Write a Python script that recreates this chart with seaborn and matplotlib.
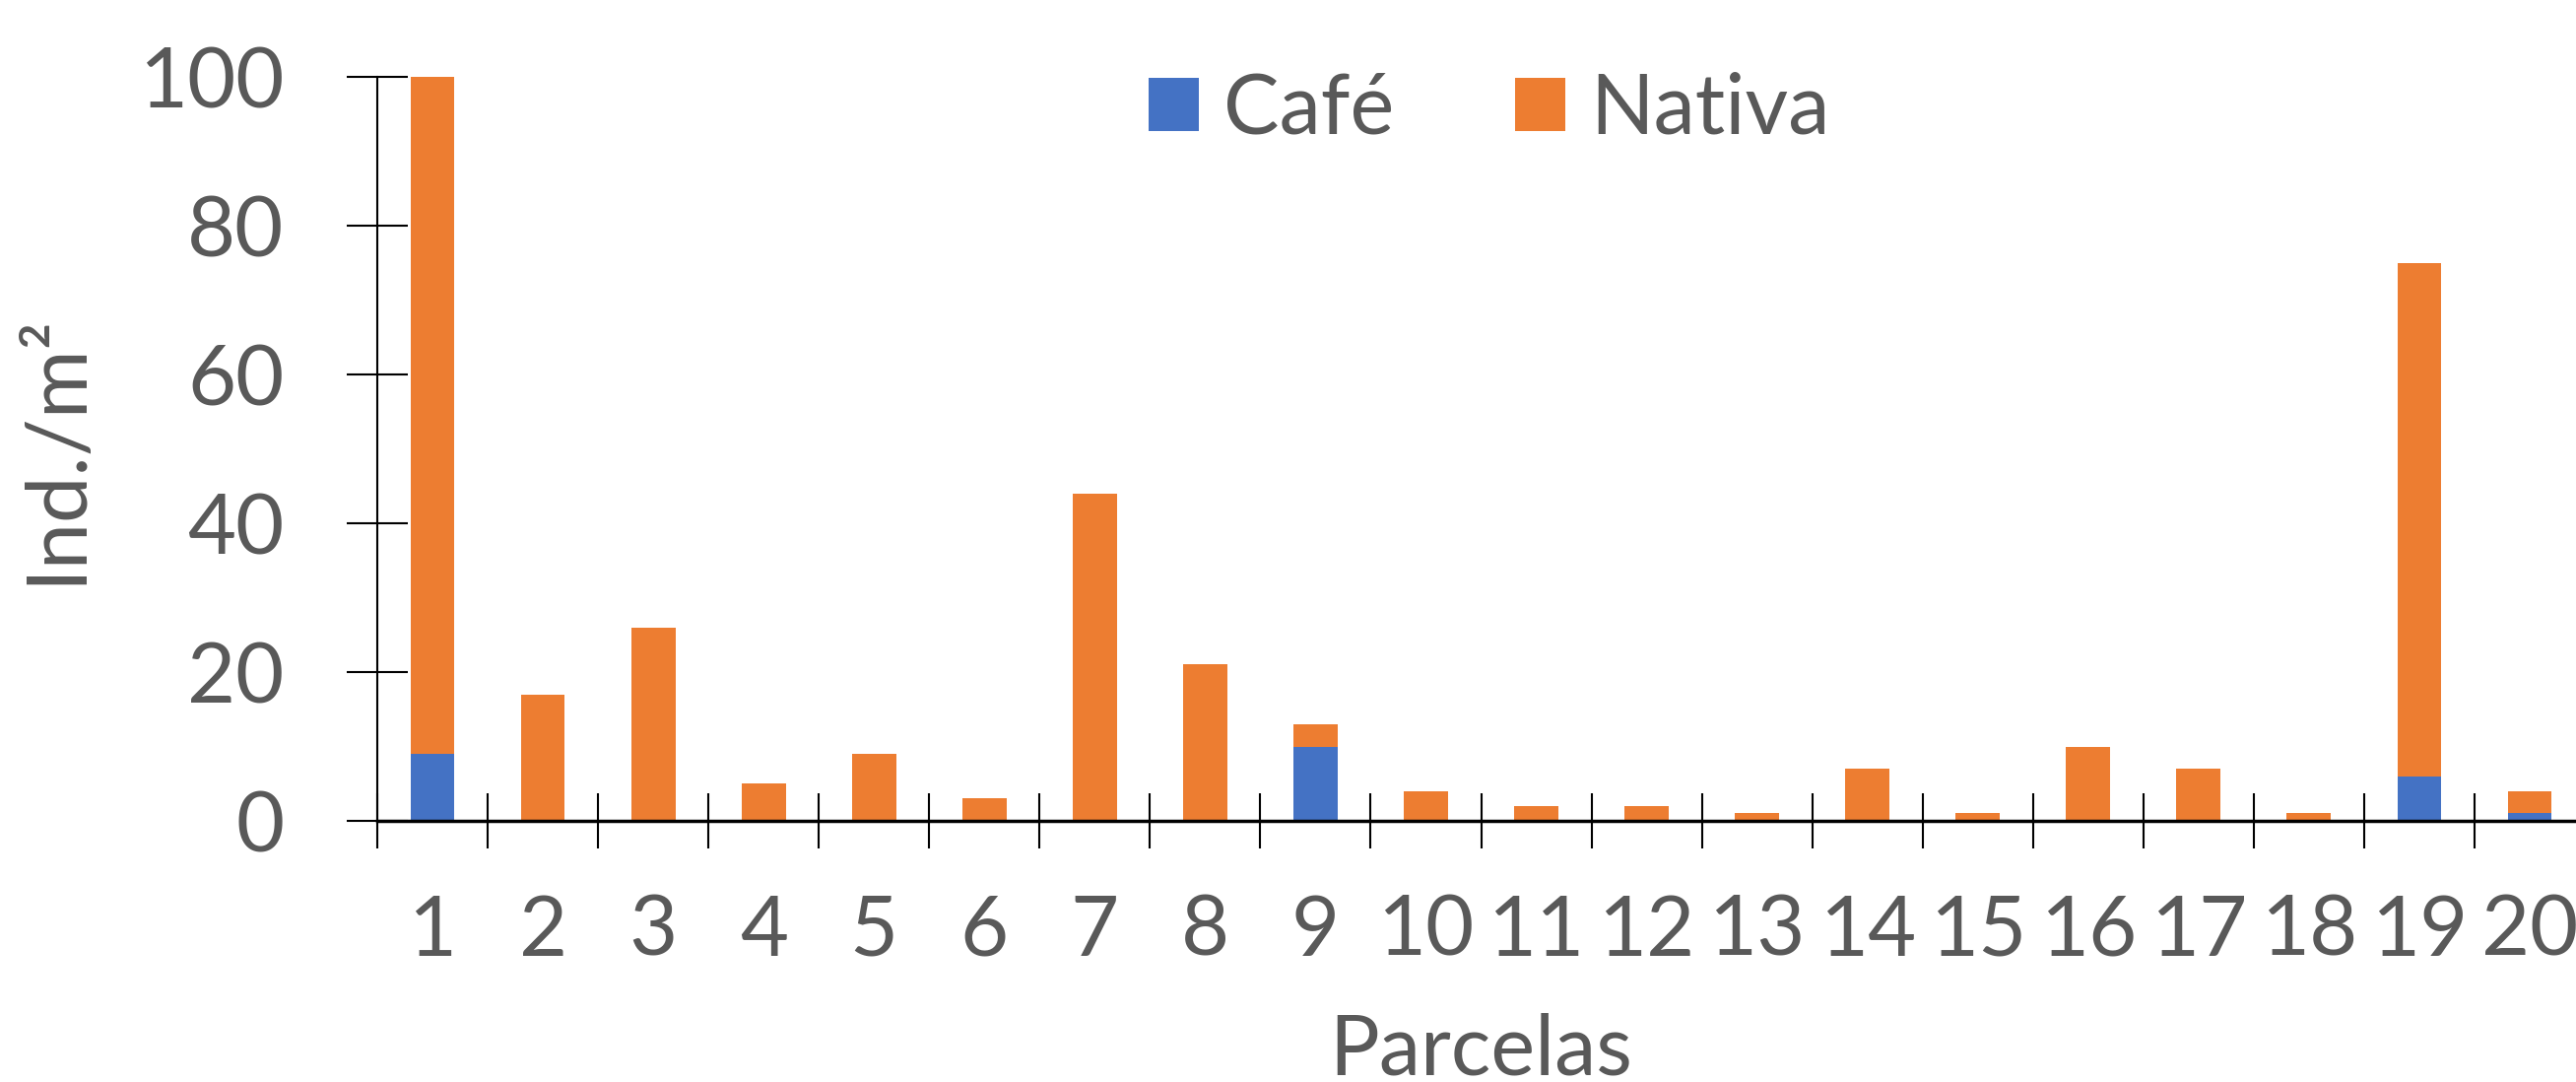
import matplotlib
matplotlib.use("Agg")
import matplotlib.pyplot as plt
import numpy as np
import pandas as pd
import seaborn as sns

# Densidade de indivíduos por parcela
parcelas = [str(i) for i in range(1, 21)]
cafe = [9, 0, 0, 0, 0, 0, 0, 0, 10, 0, 0, 0, 0, 0, 0, 0, 0, 0, 6, 1]
nativa = [91, 17, 26, 5, 9, 3, 44, 21, 3, 4, 2, 2, 1, 7, 1, 10, 7, 1, 69, 3]
yticks = [0, 20, 40, 60, 80, 100]

COR_CAFE = "#4472C4"
COR_NATIVA = "#ED7D31"
COR_TEXTO = "#595959"
FS = 61

sns.set_theme(style="white")
plt.rcParams["font.family"] = ["Lato", "DejaVu Sans"]

df = pd.DataFrame({"Parcela": parcelas, "Café": cafe, "Nativa": nativa})
df["Total"] = df["Café"] + df["Nativa"]

fig = plt.figure(figsize=(26.15, 10.98), dpi=100)
ax = fig.add_axes([383 / 2615, 265 / 1098, 2241 / 2615, 755 / 1098])

# Stacked bars: total (Nativa on top) drawn first, Café over the base
sns.barplot(data=df, x="Parcela", y="Total", color=COR_NATIVA, width=0.4,
            saturation=1, ax=ax, label="Nativa", linewidth=0)
sns.barplot(data=df, x="Parcela", y="Café", color=COR_CAFE, width=0.4,
            saturation=1, ax=ax, label="Café", linewidth=0)

ax.set_xlim(-0.5, len(parcelas) - 0.5)
ax.set_ylim(0, 100)

# y axis
ax.set_yticks(yticks)
ax.tick_params(axis="y", direction="inout", length=44, width=1.5, color="black",
               pad=46, labelsize=FS, labelcolor=COR_TEXTO, left=True)

# x axis: labels centred under bars, tick marks between categories
ax.set_xticks(np.arange(len(parcelas)))
ax.set_xticklabels(parcelas)
ax.set_xticks(np.arange(-0.5, len(parcelas), 1.0), minor=True)
ax.tick_params(axis="x", which="major", length=0, pad=53, labelsize=FS,
               labelcolor=COR_TEXTO)
ax.tick_params(axis="x", which="minor", direction="inout", length=40,
               width=1.5, color="black", bottom=True)

for s in ["top", "right"]:
    ax.spines[s].set_visible(False)
ax.spines["left"].set_color("black")
ax.spines["left"].set_linewidth(1.5)
ax.spines["bottom"].set_color("black")
ax.spines["bottom"].set_linewidth(2.5)

ax.set_xlabel("Parcelas", fontsize=FS, color=COR_TEXTO, labelpad=31)
ax.set_ylabel("Ind./m²", fontsize=FS, color=COR_TEXTO, labelpad=32)

handles, labels = ax.get_legend_handles_labels()
order = [labels.index("Café"), labels.index("Nativa")]
ax.legend([handles[i] for i in order], [labels[i] for i in order],
          loc="center", bbox_to_anchor=((1512 - 383) / 2241, (1098 - 112 - 265) / 755),
          ncol=2, frameon=False, fontsize=FS, labelcolor=COR_TEXTO,
          handlelength=0.6, handleheight=0.6, handletextpad=0.3,
          columnspacing=1.45, borderpad=0)

fig.savefig("out.png", dpi=100)
